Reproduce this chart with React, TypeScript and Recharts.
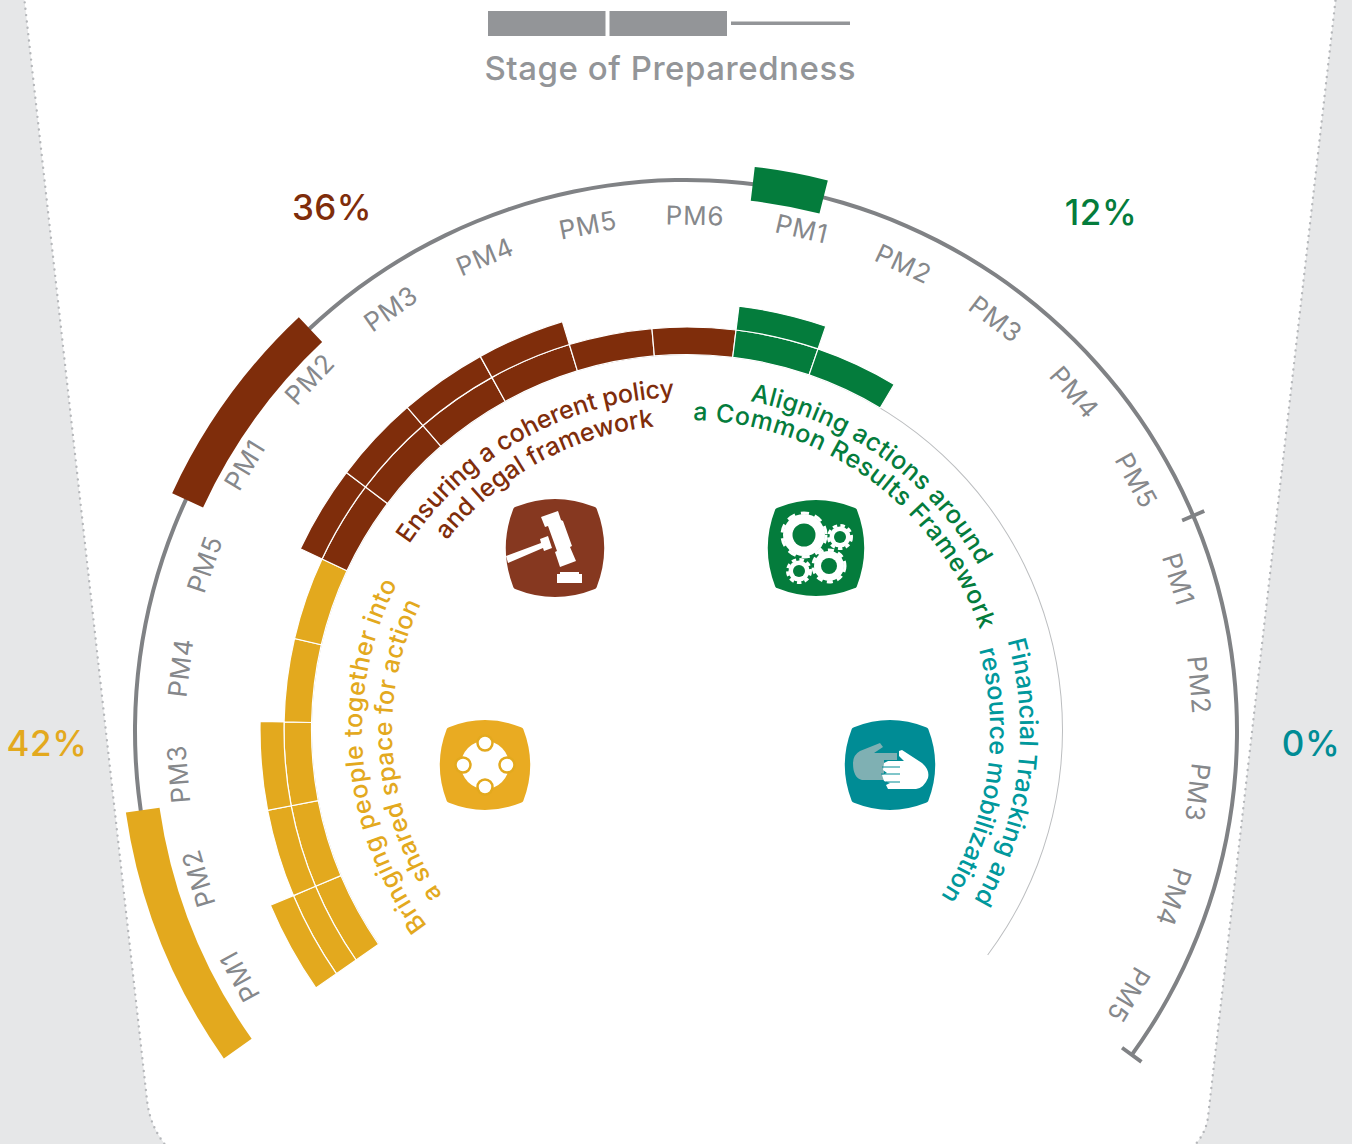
import React from "react";
import { PieChart, Pie, Cell } from "recharts";

const pmLabels = [
  "PM1", "PM2", "PM3", "PM4", "PM5",
  "PM1", "PM2", "PM3", "PM4", "PM5", "PM6",
  "PM1", "PM2", "PM3", "PM4", "PM5",
  "PM1", "PM2", "PM3", "PM4", "PM5",
];
const pmPillars = [0, 0, 0, 0, 0, 1, 1, 1, 1, 1, 1, 2, 2, 2, 2, 2, 3, 3, 3, 3, 3];
// how many stages each performance measure has reached
const pmStages = [3, 2, 2, 1, 1, 2, 2, 2, 2, 1, 1, 2, 1, 0, 0, 0, 0, 0, 0, 0, 0];
// outer bars, in degrees along the arc: bar, gap, bar, gap...
const stageBarSpans = [26.95, 33.0, 22, 50, 7.5, 112.55];
const stageBarPillars = [0, -1, 1, -1, 2, -1];
const tickAngles = [23, -36];
const sharePercents = ["42%", "36%", "12%", "0%"];
const legendSegments = ["complete", "complete", "pending"];
const legendTitle = "Stage of Preparedness";

const COLORS = ["#e3a91e", "#7f2d0b", "#047c3c", "#008c95"];
const TEXT_TEAL = "#00989c";
const GREY = "#808285";
const CX = 686;
const CY = 731;
// the stage rings sit very slightly off the outer arc's centre
const RING_CX = 687;
const RING_CY = 730;
const START = 214.8;
const END = -36.8;
const RING_EDGES = [375.5, 403, 427, 452];
const FONT = "Inter, sans-serif";

const pmTable = pmLabels.map((name, i) => ({ name, slot: 1, stage: pmStages[i], pillar: pmPillars[i] }));
const barTable = stageBarSpans.map((span, i) => ({ span, pillar: stageBarPillars[i] }));
const wholeArc = [{ value: 1 }];

const polar = (r: number, deg: number) => {
  const a = (deg * Math.PI) / 180;
  return [CX + r * Math.cos(a), CY - r * Math.sin(a)];
};

const renderPmLabel = (props: any) => {
  // the first pillar's labels sit a little closer to the rings
  const r = (props.innerRadius + props.outerRadius) / 2 - (props.pillar === 0 ? 6 : 0);
  const [x, y] = polar(r, props.midAngle);
  return (
    <text
      x={x}
      y={y}
      dy={-1.5}
      textAnchor="middle"
      dominantBaseline="central"
      fontFamily={FONT}
      fontSize={26}
      letterSpacing={0.8}
      fill="#86888b"
      transform={`rotate(${90 - props.midAngle} ${x} ${y})`}
    >
      {props.name}
    </text>
  );
};

const ArcText = ({ id, r, from, to, text, color }: any) => {
  const [x0, y0] = polar(r, from);
  const [x1, y1] = polar(r, to - 12);
  const len = (r * (from - to) * Math.PI) / 180;
  return (
    <g>
      <path id={id} d={`M ${x0} ${y0} A ${r} ${r} 0 0 1 ${x1} ${y1}`} fill="none" />
      <text fontFamily={FONT} fontSize={25} fontWeight={500} fill={color}>
        <textPath href={`#${id}`} textLength={len} lengthAdjust="spacing">
          {text}
        </textPath>
      </text>
    </g>
  );
};

const Badge = ({ x, y, s, color }: any) => (
  <path
    transform={`translate(${x} ${y}) scale(${s})`}
    d="M -0.8 -0.84 Q 0 -1.16 0.8 -0.84 Q 0.84 -0.83 0.85 -0.8 Q 1.16 0 0.85 0.8 Q 0.84 0.83 0.8 0.84 Q 0 1.16 -0.8 0.84 Q -0.84 0.83 -0.85 0.8 Q -1.16 0 -0.85 -0.8 Q -0.84 -0.83 -0.8 -0.84 Z"
    fill={color}
  />
);

const Gear = ({ x, y, r, hole, color }: any) => (
  <g>
    <circle cx={x} cy={y} r={r - 2} fill="#fff" />
    <circle
      cx={x}
      cy={y}
      r={r - 1}
      fill="none"
      stroke="#fff"
      strokeWidth={3}
      strokeDasharray={`${r * 0.36} ${r * 0.26}`}
    />
    <circle cx={x} cy={y} r={hole} fill={color} />
  </g>
);

const PeopleIcon = () => {
  const c = COLORS[0];
  return (
    <g>
      <Badge x={485} y={765} s={45} color="#e9ab22" />
      <circle cx={485} cy={765} r={24} fill="#fff" />
      {[[485, 743], [507, 765], [485, 787], [463, 765]].map(([x, y]) => (
        <circle key={`${x}-${y}`} cx={x} cy={y} r={7.5} fill="#fff" stroke={c} strokeWidth={2.5} />
      ))}
    </g>
  );
};

const GavelIcon = () => (
  <g>
    <Badge x={555} y={548} s={49} color="#863820" />
    <path d="M506 556 L541 543 L540 539 L548 536 L552 548 L544 551 L543 548 L508 563 Z" fill="#fff" />
    <path d="M541 517 L558 511 L561 520 L563 521 L572 546 L570 547 L576 561 L560 567 L555 552 L557 551 L548 526 L545 527 Z" fill="#fff" />
    <path d="M557 583 L557 574 L560 574 L560 572 L579 572 L579 574 L582 574 L582 583 Z" fill="#fff" />
  </g>
);

const GearsIcon = () => {
  const c = "#047c3c";
  return (
    <g>
      <Badge x={816} y={548} s={48} color={c} />
      <Gear x={804} y={535} r={23} hole={11.5} color={c} />
      <Gear x={840} y={537} r={12.5} hole={6} color={c} />
      <Gear x={829} y={566} r={17} hole={8} color={c} />
      <Gear x={799} y={571} r={12.5} hole={6} color={c} />
    </g>
  );
};

const HandsIcon = () => {
  const c = "#008c95";
  return (
    <g>
      <Badge x={890} y={765} s={45} color={c} />
      <path
        d="M853 763 Q853 755 860 751 L880 743 L883 747 L874 753 L897 753 L897 760 L884 760 L884 780 L862 780 Q853 778 853 763 Z"
        fill="#7fb0b3"
      />
      <path
        d="M899 751 L902 750 L922 763 Q930 770 928 778 Q924 788 916 789 L888 789 L886 785 L890 783 L884 781 L882 775 L887 773 L883 770 L884 763 L888 761 L904 761 L899 756 Z"
        fill="#fff"
      />
      <path d="M882 767 L900 767 M881 774 L900 774 M886 782 L900 782" stroke={c} strokeWidth={1} fill="none" />
    </g>
  );
};

export default function App() {
  return (
    <div style={{ position: "absolute", left: 0, top: 0, width: 1352, height: 1144, background: "#e6e7e8" }}>
      <PieChart width={1352} height={1144} margin={{ top: 0, right: 0, bottom: 0, left: 0 }}>
        <path
          d="M24 -4 L147 1100 Q150 1128 168 1148 L1192 1148 Q1206 1134 1208 1117 L1336 -4 Z"
          fill="#fff"
          stroke="#b5b7ba"
          strokeWidth={2.4}
          strokeLinecap="round"
          strokeDasharray="0 6.4"
        />

        {legendSegments.map((seg, i) =>
          seg === "complete" ? (
            <rect key={i} x={488 + i * 121.5} y={11} width={117.5} height={25} fill="#939598" />
          ) : (
            <rect key={i} x={488 + i * 121.5} y={21.5} width={119} height={3.5} fill="#939598" />
          )
        )}
        <text x={670} y={80} textAnchor="middle" fontFamily={FONT} fontWeight={500} fontSize={33} fill="#939598" textLength={371}>
          {legendTitle}
        </text>

        {/* thin guide circle inside the rings */}
        <Pie
          data={wholeArc}
          dataKey="value"
          cx={RING_CX}
          cy={RING_CY}
          startAngle={START}
          endAngle={END}
          innerRadius={375}
          outerRadius={376}
          fill="#bcbec0"
          stroke="none"
          isAnimationActive={false}
        />

        {/* main arc and its two end ticks */}
        <Pie
          data={wholeArc}
          dataKey="value"
          cx={CX}
          cy={CY}
          startAngle={190}
          endAngle={-36}
          innerRadius={549}
          outerRadius={553}
          fill={GREY}
          stroke="none"
          isAnimationActive={false}
        />
        {tickAngles.map((a) => (
          <Pie
            key={a}
            data={wholeArc}
            dataKey="value"
            cx={CX}
            cy={CY}
            startAngle={a + 0.2}
            endAngle={a - 0.2}
            innerRadius={539}
            outerRadius={563}
            fill={GREY}
            stroke="none"
            isAnimationActive={false}
          />
        ))}

        {/* outer stage bars */}
        <Pie
          data={barTable}
          dataKey="span"
          cx={688}
          cy={CY}
          startAngle={START + 0.4}
          endAngle={END}
          innerRadius={534}
          outerRadius={568}
          stroke="none"
          isAnimationActive={false}
        >
          {barTable.map((d, i) => (
            <Cell key={i} fill={d.pillar < 0 ? "none" : COLORS[d.pillar]} />
          ))}
        </Pie>

        {/* three stage rings */}
        {[1, 2, 3].map((ring) => (
          <Pie
            key={ring}
            data={pmTable}
            dataKey="slot"
            cx={RING_CX}
            cy={RING_CY}
            startAngle={START}
            endAngle={END}
            innerRadius={RING_EDGES[ring - 1]}
            outerRadius={RING_EDGES[ring]}
            isAnimationActive={false}
          >
            {pmTable.map((d, i) =>
              d.stage >= ring ? (
                <Cell key={i} fill={COLORS[d.pillar]} stroke="#fff" strokeWidth={1.2} />
              ) : (
                <Cell key={i} fill="none" stroke="none" />
              )
            )}
          </Pie>
        ))}

        {/* PM labels, one per slot */}
        <Pie
          data={pmTable}
          dataKey="slot"
          cx={CX}
          cy={CY}
          startAngle={START}
          endAngle={END}
          innerRadius={504}
          outerRadius={524}
          fill="none"
          stroke="none"
          label={renderPmLabel}
          labelLine={false}
          isAnimationActive={false}
        />

        <ArcText id="y1" r={324} from={217} to={153} text="Bringing people together into" color={COLORS[0]} />
        <ArcText id="y2" r={294} from={214} to={154.4} text="a shared space for action" color={COLORS[0]} />
        <ArcText id="b1" r={334} from={146} to={92} text="Ensuring a coherent policy" color={COLORS[1]} />
        <ArcText id="b2" r={306} from={141.5} to={96} text="and legal framework" color={COLORS[1]} />
        <ArcText id="g1" r={336} from={79} to={29.5} text="Aligning actions around" color={COLORS[2]} />
        <ArcText id="g2" r={311} from={88.7} to={19} text="a Common Results Framework" color={COLORS[2]} />
        <ArcText id="t1" r={334} from={15.7} to={-30.5} text="Financial Tracking and" color={TEXT_TEAL} />
        <ArcText id="t2" r={304} from={15.5} to={-33} text="resource mobilization" color={TEXT_TEAL} />

        <text x={47} y={756} textAnchor="middle" fontFamily={FONT} fontWeight={500} fontSize={35} letterSpacing={0.5} fill={COLORS[0]}>{sharePercents[0]}</text>
        <text x={332} y={220} textAnchor="middle" fontFamily={FONT} fontWeight={500} fontSize={35} letterSpacing={0.5} fill={COLORS[1]}>{sharePercents[1]}</text>
        <text x={1101} y={225} textAnchor="middle" fontFamily={FONT} fontWeight={500} fontSize={35} letterSpacing={0.5} fill={COLORS[2]}>{sharePercents[2]}</text>
        <text x={1311} y={756} textAnchor="middle" fontFamily={FONT} fontWeight={500} fontSize={35} letterSpacing={0.5} fill={COLORS[3]}>{sharePercents[3]}</text>

        <PeopleIcon />
        <GavelIcon />
        <GearsIcon />
        <HandsIcon />
      </PieChart>
    </div>
  );
}
